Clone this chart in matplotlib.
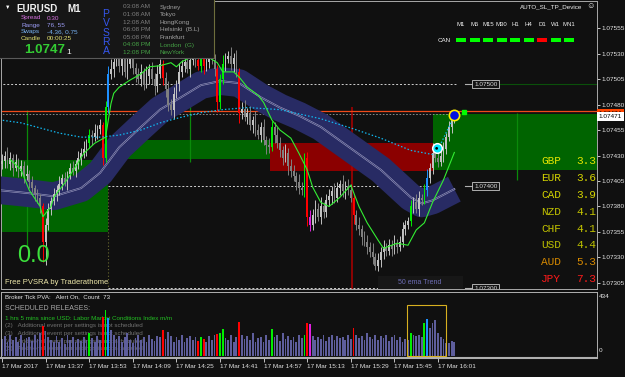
import numpy as np
import matplotlib
matplotlib.use('Agg')
import matplotlib.pyplot as plt
from matplotlib.patches import Rectangle
from matplotlib.lines import Line2D
from matplotlib.transforms import Affine2D, blended_transform_factory

plt.rcParams['font.family'] = ['Liberation Sans', 'DejaVu Sans']

W, H = 625, 377
BG = '#101010'

# prices are kept as points (0.00001) above 1.07300
BASE = 1.07300
POINT = 0.00001

# M1 candles, 13:21 .. 16:07
first_open = 122
closes = [125, 130, 122, 128, 118, 124, 115, 120, 110, 112,
          104, 98, 92, 88, 80, 45, 62, 78, 85, 92,
          96, 102, 108, 104, 112, 118, 115, 122, 128, 132,
          136, 142, 150, 148, 152, 156, 160, 128, 178, 210,
          215, 222, 228, 218, 225, 212, 220, 226, 216, 210,
          205, 212, 200, 208, 215, 205, 198, 210, 220, 206,
          195, 180, 175, 190, 200, 212, 218, 222, 215, 224,
          228, 224, 218, 232, 218, 222, 228, 224, 215, 182,
          205, 220, 225, 228, 220, 226, 212, 172, 176, 168,
          172, 160, 165, 155, 150, 158, 145, 140, 138, 158,
          150, 142, 135, 128, 132, 120, 115, 110, 104, 98,
          96, 128, 70, 62, 72, 78, 70, 80, 75, 86,
          90, 95, 88, 98, 102, 95, 100, 96, 88, 72,
          62, 58, 50, 45, 40, 35, 30, 22, 28, 35,
          40, 36, 42, 38, 44, 40, 45, 58, 62, 66,
          80, 84, 78, 88, 86, 96, 108, 118, 132, 128,
          124, 130, 136, 148, 158, 165, 171]
hi_wick = [6, 4, 8, 5, 3, 7, 4, 6, 5, 9,
           4, 6, 3, 5, 4, 3, 7, 5, 4, 6,
           5, 8, 4, 6, 3, 5, 7, 4, 6, 5,
           8, 4, 6, 5, 9, 4, 6, 3, 5, 8,
           10, 6, 12, 5, 8, 4, 9, 6, 7, 5,
           6, 8, 4, 10, 5, 7, 6, 9, 5, 4,
           6, 8, 5, 7, 4, 9, 6, 5, 8, 4,
           7, 5, 9, 4, 6, 8, 5, 7, 6, 4,
           5, 9, 6, 4, 8, 5, 7, 4, 6, 8,
           5, 7, 4, 9, 6, 5, 8, 4, 7, 6,
           5, 8, 6, 4, 9, 5, 7, 6, 4, 8,
           6, 4, 5, 7, 6, 8, 5, 9, 4, 6,
           7, 5, 8, 6, 4, 9, 5, 7, 6, 4,
           5, 8, 4, 6, 7, 5, 9, 4, 6, 5,
           7, 4, 6, 5, 8, 4, 6, 7, 5, 4,
           6, 5, 8, 7, 4, 6, 9, 5, 10, 5,
           6, 5, 7, 4, 6, 5, 2]
lo_wick = [5, 7, 4, 6, 8, 3, 6, 5, 7, 4,
           6, 4, 7, 5, 6, 19, 22, 5, 6, 4,
           7, 5, 6, 4, 8, 5, 4, 6, 5, 7,
           4, 6, 5, 8, 4, 6, 5, 7, 4, 6,
           5, 8, 4, 6, 9, 5, 7, 4, 6, 8,
           5, 7, 6, 4, 8, 5, 9, 6, 4, 7,
           8, 6, 5, 9, 4, 7, 5, 6, 4, 8,
           5, 7, 4, 6, 8, 5, 6, 4, 7, 9,
           6, 5, 7, 4, 6, 8, 5, 10, 6, 4,
           7, 5, 8, 6, 4, 7, 5, 9, 6, 4,
           8, 5, 6, 7, 4, 9, 6, 5, 8, 6,
           5, 7, 9, 6, 5, 8, 4, 7, 6, 5,
           6, 8, 5, 4, 7, 6, 8, 5, 4, 9,
           5, 6, 8, 4, 7, 5, 6, 4, 5, 7,
           6, 5, 4, 7, 5, 6, 4, 5, 6, 4,
           5, 6, 4, 7, 5, 4, 6, 5, 6, 4,
           5, 4, 6, 5, 4, 6, 3]
volumes = [120, 140, 95, 150, 110, 130, 100, 145, 90, 125,
           135, 105, 150, 120, 160, 210, 175, 130, 110, 95,
           140, 100, 125, 85, 150, 115, 135, 95, 120, 105,
           130, 110, 160, 125, 95, 140, 115, 273, 322, 266,
           180, 150, 120, 140, 100, 130, 160, 115, 90, 125,
           145, 110, 135, 95, 150, 120, 105, 140, 130, 182,
           120, 165, 140, 100, 130, 115, 150, 95, 125, 140,
           110, 130, 105, 135, 120, 100, 140, 115, 150, 154,
           160, 190, 125, 110, 145, 100, 130, 238, 150, 120,
           140, 115, 160, 100, 125, 135, 95, 150, 110, 190,
           130, 145, 105, 160, 120, 140, 115, 135, 100, 150,
           125, 147, 230, 225, 140, 110, 135, 120, 145, 105,
           130, 150, 115, 140, 125, 135, 110, 145, 120, 195,
           150, 125, 140, 115, 160, 135, 120, 150, 110, 140,
           125, 145, 105, 135, 150, 115, 130, 100, 120, 110,
           160, 147, 140, 145, 135, 230, 260, 196, 231, 252,
           161, 133, 120, 91, 91, 105, 95]

# PVSRA coloured bars: r climax down, g climax up, b rising up, m rising down
pvsra_bars = {15: 'r', 32: 'g', 37: 'r', 38: 'g', 39: 'b', 59: 'r', 72: 'r',
              73: 'g', 74: 'r', 79: 'r', 80: 'g', 81: 'g', 87: 'r', 99: 'g',
              111: 'g', 112: 'r', 113: 'm', 129: 'r', 150: 'g', 155: 'g', 156: 'b'}

# fast ema (green line)
fast_ma_bars = [3, 7, 10, 14, 15, 18, 19, 23, 27, 30, 34, 38, 40, 41, 43, 47, 51, 54,
                58, 62, 64, 66, 69, 73, 76, 79, 81, 85, 87, 90, 94, 96, 99, 102, 106,
                109, 112, 114, 117, 120, 124, 128, 131, 134, 138, 140, 145, 149, 152,
                155, 158, 162, 166]
fast_ma_pts = [126, 116, 96, 80, 70, 80, 89, 103, 119, 132, 142, 148, 181, 191, 197,
               204, 210, 217, 218, 221, 217, 222, 226, 228, 226, 221, 212, 212, 207,
               197, 189, 182, 165, 155, 147, 132, 116, 99, 84, 80, 89, 101, 80, 64,
               47, 39, 44, 42, 57, 64, 84, 106, 133]
# 50 ema trend band
ema_bars = [-1, 10, 19, 29, 36, 43, 51, 58, 65, 73, 80, 87, 95, 102, 109, 117, 128,
            139, 150, 154, 158, 166]
ema_pts = [96, 93, 90, 98, 113, 138, 158, 175, 186, 199, 203, 201, 187, 177, 169, 158,
           137, 116, 89, 83, 86, 97]
# slow ma (cyan dotted)
slow_ma_bars = [-1, 7, 14, 21, 29, 36, 43, 51, 58, 65, 73, 81, 90, 102, 117, 128, 139,
                150, 158]
slow_ma_pts = [165, 162, 157, 152, 148, 148, 150, 155, 162, 167, 172, 175, 177, 175,
               166, 157, 147, 135, 131]
proj_bars = [159.5, 165.8]
proj_pts = [133, 168]

# zones: start bar, end bar, low pts, high pts
demand_zones = [(-1, 38.9, 55, 126), (38.9, 98.3, 127, 145), (158.2, 220, 116, 171)]
supply_zones = [(98.3, 158.2, 115, 142)]
session_bars = [9, 69, 189]
session_lo = [40, 124, 106]
session_hi = [175, 229, 172]
news_bar = 128.4
news_top = 178

level_prices = [1.07500, 1.07400, 1.07300]
level_starts = [-1, 38.9, 38.9]
level_ends = [167, 157, 157]
ask_price = 1.07474
bid_price = 1.07471

time_labels = ['17 Mar 2017', '17 Mar 13:37', '17 Mar 13:53', '17 Mar 14:09',
               '17 Mar 14:25', '17 Mar 14:41', '17 Mar 14:57', '17 Mar 15:13',
               '17 Mar 15:29', '17 Mar 15:45', '17 Mar 16:01']
time_label_bars = [0, 16, 32, 48, 64, 80, 96, 112, 128, 144, 160]

currencies = ['GBP', 'EUR', 'CAD', 'NZD', 'CHF', 'USD', 'AUD', 'JPY']
strength = [3.3, 3.6, 3.9, 4.1, 4.1, 4.4, 5.3, 7.3]
strength_colors = ['#E6E600', '#D4D400', '#D4D400', '#C4C400', '#C4C400', '#BCC000',
                   '#D88A00', '#FF1A1A']

tf_labels = ['M1', 'M5', 'M15', 'M30', 'H1', 'H4', 'D1', 'W1', 'MN1']
tf_up = [True, True, True, True, True, True, False, True, True]

sess_times = ['03:08 AM', '01:08 AM', '12:08 AM', '06:08 PM', '05:08 PM', '04:08 PM', '12:08 PM']
sess_cities = ['Sydney', 'Tokyo', 'HongKong', 'Helsinki  (B.L)', 'Frankfurt', 'London  (G)', 'NewYork']
sess_open = [False, False, False, False, False, True, True]

PVSRA_COLORS = {'r': '#FF0000', 'g': '#00EE00', 'b': '#1E90FF', 'm': '#E020E0'}


def price(p):
    return BASE + np.asarray(p, dtype=float) * POINT


fig = plt.figure(figsize=(W / 100, H / 100), dpi=100, facecolor=BG)
px = Affine2D().scale(1.0 / W, -1.0 / H).translate(0, 1) + fig.transFigure

# ---------------- main price window ----------------
ax = fig.add_axes([1 / W, 1 - 289 / H, 596 / W, 288 / H], facecolor=BG)
ax.set_xlim(-0.37, 218.35)
ax.set_ylim(price(-0.9), price(281.5))

for x0, x1, lo, hi in demand_zones:
    ax.add_patch(Rectangle((x0, price(lo)), x1 - x0, (hi - lo) * POINT,
                           fc='#006400', ec='none', zorder=1))
for x0, x1, lo, hi in supply_zones:
    ax.add_patch(Rectangle((x0, price(lo)), x1 - x0, (hi - lo) * POINT,
                           fc='#8B0000', ec='none', zorder=1))
ax.vlines(session_bars, price(session_lo), price(session_hi), colors='#0A8A0A', lw=0.9, zorder=1.5)
ax.vlines(news_bar, price(-5), price(news_top), colors='#B00000', lw=1.1, zorder=1.5)
ax.vlines(38.9, price(-5), price(99), colors='#6B6B30', lw=0.8, linestyles=(0, (1, 2)), zorder=1.5)

# price levels with their labels
for lvl, x0, x1 in zip(level_prices, level_starts, level_ends):
    ax.plot([x0, x1], [lvl, lvl], color='#D0D0D0', lw=0.7, ls=(0, (2, 2)), zorder=2)
    ax.plot([169.8, 172.6], [lvl, lvl], color='#B0B0B0', lw=0.8, zorder=2)
    ax.text(177.5, lvl, f'{lvl:.5f}', color='#D8D8D8', fontsize=4.6, ha='center', va='center',
            zorder=7, clip_on=True,
            bbox=dict(boxstyle='square,pad=0.25', fc='#151515', ec='#C8C8C8', lw=0.6))
ax.plot([182.8, 220], [level_prices[0]] * 2, color='#0A500A', lw=0.8, zorder=2)
ax.axhline(ask_price, color='#F04A1A', lw=0.9, zorder=2)
ax.plot([-1, 166], [bid_price, bid_price], color='#9A9A9A', lw=0.6, ls=(0, (2, 2)), zorder=2)

# ema band
ax.plot(ema_bars, price(ema_pts), color='#282B64', lw=20, solid_joinstyle='round',
        solid_capstyle='butt', zorder=3)
ax.plot(ema_bars, price(ema_pts), color='#A0A0C4', lw=1.3, zorder=3.1)
ax.plot(ema_bars, price(ema_pts), color='#2A2D66', lw=0.5, zorder=3.2)

# candles
n = len(closes)
idx = np.arange(n)
c = np.array(closes, dtype=float)
o = np.concatenate([[first_open], c[:-1]])
hi = np.maximum(o, c) + np.array(hi_wick)
lo = np.minimum(o, c) - np.array(lo_wick)
cols = []
vcols = []
for i in range(n):
    if i in pvsra_bars:
        cols.append(PVSRA_COLORS[pvsra_bars[i]])
        vcols.append(PVSRA_COLORS[pvsra_bars[i]])
    else:
        cols.append('#C2C2C2' if c[i] >= o[i] else '#808080')
        vcols.append('#5E5E9C')
ax.vlines(idx, price(lo), price(hi), colors=cols, lw=0.7, zorder=4)
body = np.maximum(np.abs(c - o), 0.9) * POINT
ax.bar(idx, body, bottom=price(np.minimum(o, c)), width=0.62, color=cols, lw=0, zorder=4)

ax.plot(fast_ma_bars, price(fast_ma_pts), color='#33EE33', lw=0.8, zorder=5)
ax.plot(slow_ma_bars, price(slow_ma_pts), color='#10B8F0', lw=0.9, ls=(0, (1.2, 1.6)), zorder=5)
ax.plot(proj_bars, price(proj_pts), color='#10B8F0', lw=0.9, ls=(0, (1.2, 1.6)), zorder=5)

ax.scatter([159.5], [price(137)], s=48, fc='#00E5FF', ec='white', lw=1.1, zorder=6)
ax.scatter([159.5], [price(137)], s=4, fc='black', ec='none', zorder=6.1)
ax.scatter([166], [price(169.7)], s=55, fc='#0010E0', ec='#FFF000', lw=1.2, zorder=6)
ax.plot([169.6], [price(173)], marker='s', ms=2.3, color='#00FF00', zorder=6)

# currency strength meter
for k, (cur, val, col) in enumerate(zip(currencies, strength, strength_colors)):
    y = 161 + 16.9 * k
    ax.text(541, y, cur, transform=px, color=col, fontsize=8, family='Liberation Mono',
            va='center', ha='left', clip_on=True, zorder=8)
    ax.text(576, y, f'{val:.1f}', transform=px, color=col, fontsize=8, family='Liberation Mono',
            va='center', ha='left', clip_on=True, zorder=8)

# right price scale
ticks = price(np.arange(5, 256, 25))
ax.yaxis.tick_right()
ax.set_yticks(ticks)
ax.set_yticklabels([f'{t:.5f}' for t in ticks])
ax.tick_params(axis='y', colors='#E6E6E6', labelsize=4.6, length=2.2, width=0.6, pad=1.2)
ax.set_xticks([])
for s in ax.spines.values():
    s.set_color('#A8A8A8')
    s.set_linewidth(0.7)

yx = blended_transform_factory(ax.transAxes, ax.transData)
ax.text(1.003, price(171.5), f'{ask_price:.5f}', transform=yx, color='black', fontsize=4.6,
        va='center', ha='left', clip_on=False, zorder=9,
        bbox=dict(boxstyle='square,pad=0.3', fc='#FF4500', ec='none'))
ax.text(1.003, price(168), f'{bid_price:.5f}', transform=yx, color='black', fontsize=4.6,
        va='center', ha='left', clip_on=False, zorder=10,
        bbox=dict(boxstyle='square,pad=0.3', fc='white', ec='none'))

# ---------------- volume window ----------------
ax2 = fig.add_axes([1 / W, 1 - 358 / H, 596 / W, 66 / H], facecolor=BG)
ax2.set_xlim(-0.37, 218.35)
ax2.set_ylim(-14, 448)
ax2.bar(idx, volumes, width=0.65, color=vcols, lw=0, zorder=2)
ax2.add_patch(Rectangle((148.6, 0), 14.3, 357, fc='none', ec='#D8B020', lw=0.8, zorder=3))
ax2.set_yticks([])
ax2.set_xticks(time_label_bars)
ax2.set_xticklabels(time_labels)
for lbl in ax2.get_xticklabels():
    lbl.set_ha('left')
ax2.tick_params(axis='x', colors='#E0E0E0', labelsize=4.6, length=3, width=0.6, pad=1.5)
for s in ax2.spines.values():
    s.set_color('#B0B0B0')
    s.set_linewidth(0.7)
ax2.spines['bottom'].set_linewidth(1.5)

ax2.text(5, 297, 'Broker Tick PVA:   Alert On,  Count  73', transform=px, color='#E8E8E8',
         fontsize=4.4, va='center', zorder=1)
ax2.text(5, 308, 'SCHEDULED RELEASES:', transform=px, color='#A8A8A8', fontsize=5,
         va='center', zorder=1)
ax2.text(5, 318, '1 hrs 5 mins since USD: Labor Market Conditions Index m/m', transform=px,
         color='#22C022', fontsize=4.5, va='center', zorder=1)
for k in range(4):
    ax2.text(5, 325.5 + 7.8 * k, f'({k + 2})   Additional event per settings is not scheduled',
             transform=px, color='#707070', fontsize=4.5, va='center', zorder=1)
fig.text(599, 296, '434', transform=px, color='#E6E6E6', fontsize=4.6, va='center')
fig.text(599, 351, '0', transform=px, color='#E6E6E6', fontsize=4.6, va='center')

# ---------------- overlays ----------------
fig.text(34, 256, '0.0', transform=px, color='#3CE03C', fontsize=17, ha='center', va='center', zorder=11)
fig.text(5, 283, 'Free PVSRA by Traderathome', transform=px, color='#EEE8AA', fontsize=5.5,
         va='center', zorder=11)
fig.add_artist(Rectangle((378, 276), 85, 13, transform=px, fc='#171717', ec='none', zorder=10))
fig.text(420, 283, '50 ema Trend', transform=px, color='#6C6CB4', fontsize=5, ha='center',
         va='center', zorder=11)

# info panel
fig.add_artist(Rectangle((0, 0), 214, 58, transform=px, fc='#161616', ec='none', zorder=10))
fig.add_artist(Line2D([0, 214], [58, 58], transform=px, color='#5A5A5A', lw=0.8, zorder=10.5))
fig.add_artist(Line2D([214, 214], [0, 58], transform=px, color='#6E6E3C', lw=0.8, zorder=10.5))


def ptext(x, y, s, **kw):
    kw.setdefault('va', 'center')
    kw.setdefault('ha', 'left')
    fig.text(x, y, s, transform=px, zorder=11, **kw)


ptext(5, 7, '▼', color='white', fontsize=4)
ptext(16, 9, 'EURUSD', color='#F0F0F0', fontsize=7, weight='bold')
ptext(67, 9, 'M1', color='#F0F0F0', fontsize=7, weight='bold')
info_rows = [('Spread', '0.30', '#D670E0'), ('Range', '76, 55', '#9C9CF4'),
             ('Swaps', '-4.36, 0.75', '#78B4F4'), ('Candle', '00:00:25', '#E0E070')]
for k, (name, val, col) in enumerate(info_rows):
    ptext(21, 18 + 7 * k, name, color=col, fontsize=4.6)
    ptext(47, 18 + 7 * k, val, color=col, fontsize=4.6)
ptext(24, 50, '1.0747', color='#33CC33', fontsize=9.5, weight='bold')
ptext(66, 52, '1', color='#F0F0F0', fontsize=6)
for k, ch in enumerate('PVSRA'):
    ptext(106, 14 + 9.3 * k, ch, color='#3556EE', fontsize=7.5, ha='center')
for k, (t, city, op) in enumerate(zip(sess_times, sess_cities, sess_open)):
    y = 7 + 7.6 * k
    ptext(123, y, t, color='#45A045' if op else '#7E7E7E', fontsize=4.6)
    ptext(160, y, city, color='#45A045' if op else '#A0A0A0', fontsize=4.6)

# top right device panel
ptext(520, 7, 'AUTO_SL_TP_Device', color='#F0F0F0', fontsize=4.5)
ptext(590, 7, '☺', color='#F0F0F0', fontsize=6, ha='center')
ptext(438, 40, 'CAN', color='#F0F0F0', fontsize=4.5)
for k, (lab, up) in enumerate(zip(tf_labels, tf_up)):
    xc = 461 + 13.5 * k
    ptext(xc, 24, lab, color='#F0F0F0', fontsize=4.3, ha='center')
    fig.add_artist(Rectangle((xc - 5, 38), 10, 4, transform=px, fc='#00FF00' if up else '#FF0000',
                             ec='none', zorder=11))

fig.savefig('out.png', dpi=100, facecolor=BG)
